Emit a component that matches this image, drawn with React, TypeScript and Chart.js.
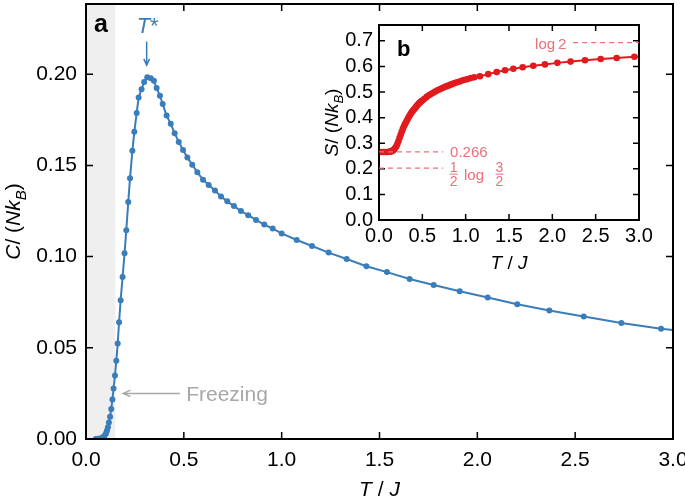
import React, { useEffect, useRef } from "react";
import { Chart, registerables } from "chart.js";

Chart.register(...registerables);

const FONT = '"Liberation Sans", Arial, Helvetica, sans-serif';

// ---- Data ----
// Panel a: heat capacity C/(N k_B) vs T/J
const heatT = [
  0.05, 0.06, 0.07, 0.08, 0.088, 0.095, 0.102, 0.107, 0.112, 0.117, 0.123, 0.129, 0.135, 0.141,
  0.148, 0.155, 0.162, 0.169, 0.177, 0.187, 0.197, 0.206, 0.216, 0.225, 0.237, 0.247, 0.259,
  0.269, 0.284, 0.297, 0.313, 0.331, 0.347, 0.361, 0.378, 0.392, 0.412, 0.433, 0.453, 0.474,
  0.496, 0.518, 0.543, 0.569, 0.598, 0.627, 0.659, 0.69, 0.722, 0.756, 0.792, 0.829, 0.869,
  0.911, 0.954, 1.0, 1.077, 1.155, 1.24, 1.332, 1.433, 1.538, 1.654, 1.777, 1.91, 2.053, 2.204,
  2.368, 2.544, 2.736, 2.939, 3.16,
];
const heatC = [
  0.0, 0.0001, 0.0002, 0.0005, 0.0011, 0.0018, 0.003, 0.0045, 0.0065, 0.009, 0.0122, 0.0165,
  0.0216, 0.0277, 0.0348, 0.0429, 0.0524, 0.064, 0.0761, 0.0888, 0.1018, 0.1145, 0.13, 0.143,
  0.158, 0.1685, 0.1788, 0.1873, 0.1918, 0.1958, 0.1984, 0.1978, 0.1964, 0.1924, 0.1882, 0.1837,
  0.1773, 0.1728, 0.1677, 0.1629, 0.1585, 0.1543, 0.1504, 0.1462, 0.1422, 0.1393, 0.1362, 0.133,
  0.1303, 0.1277, 0.125, 0.1227, 0.1201, 0.1176, 0.1154, 0.1127, 0.1091, 0.1058, 0.1022, 0.0987,
  0.0947, 0.0915, 0.0877, 0.0844, 0.081, 0.0776, 0.0739, 0.0705, 0.0672, 0.0636, 0.0605, 0.0578,
];

// Panel b: entropy S/(N k_B) vs T/J
const entropyT = [
  0.0, 0.025, 0.05, 0.075, 0.1, 0.125, 0.1375, 0.15, 0.1625, 0.175, 0.1875, 0.2, 0.2125, 0.225,
  0.2375, 0.25, 0.2625, 0.275, 0.2875, 0.3, 0.3125, 0.325, 0.3375, 0.35, 0.3625, 0.375, 0.3875,
  0.4, 0.4125, 0.425, 0.4375, 0.45, 0.4625, 0.475, 0.4875, 0.5, 0.525, 0.55, 0.575, 0.6, 0.625,
  0.65, 0.675, 0.7, 0.725, 0.75, 0.775, 0.8, 0.825, 0.85, 0.875, 0.9, 0.93, 0.96, 0.99, 1.025,
  1.06, 1.1, 1.165, 1.26, 1.358, 1.454, 1.55, 1.658, 1.78, 1.915, 2.058, 2.21, 2.377, 2.558,
  2.742, 2.946, 3.15,
];
const entropyS = [
  0.266, 0.266, 0.266, 0.266, 0.266, 0.267, 0.268, 0.27, 0.272, 0.276, 0.281, 0.288, 0.298, 0.309,
  0.321, 0.333, 0.345, 0.356, 0.366, 0.375, 0.383, 0.391, 0.399, 0.406, 0.413, 0.42, 0.426, 0.431,
  0.436, 0.441, 0.446, 0.451, 0.456, 0.46, 0.464, 0.467, 0.474, 0.481, 0.487, 0.492, 0.497, 0.502,
  0.507, 0.511, 0.515, 0.519, 0.522, 0.525, 0.529, 0.532, 0.535, 0.538, 0.541, 0.545, 0.548,
  0.551, 0.555, 0.558, 0.562, 0.57, 0.578, 0.585, 0.591, 0.597, 0.603, 0.608, 0.614, 0.619, 0.624,
  0.629, 0.633, 0.638, 0.642,
];

const mainXTicks = [0, 0.5, 1, 1.5, 2, 2.5, 3];
const mainYTicks = [0, 0.05, 0.1, 0.15, 0.2];
const insetXTicks = [0, 0.5, 1, 1.5, 2, 2.5, 3];
const insetYTicks = [0, 0.1, 0.2, 0.3, 0.4, 0.5, 0.6, 0.7];

const freezingEnd = 0.15;
const tStar = 0.31;
const sZero = 0.266;
const sHalfLog = 0.2027;
const sLog2 = 0.6931;

const BLUE = "#3a7dbb";
const RED = "#e21a1e";
const PINK = "#ee6f78";
const GRAY = "#a8a8a8";
const SHADE = "#efefef";

type Part = { t: string; italic?: boolean; bold?: boolean; sub?: boolean };

function drawRich(
  ctx: CanvasRenderingContext2D,
  parts: Part[],
  x: number,
  y: number,
  size: number,
  color: string,
  rotate = false,
  align: "center" | "left" | "right" = "center"
) {
  ctx.save();
  ctx.translate(x, y);
  if (rotate) ctx.rotate(-Math.PI / 2);
  const fontOf = (p: Part) =>
    `${p.italic ? "italic " : ""}${p.bold ? "bold " : ""}${p.sub ? Math.round(size * 0.7) : size}px ${FONT}`;
  const widths = parts.map((p) => {
    ctx.font = fontOf(p);
    return ctx.measureText(p.t).width;
  });
  const total = widths.reduce((a, b) => a + b, 0);
  let cx = align === "center" ? -total / 2 : align === "right" ? -total : 0;
  ctx.fillStyle = color;
  ctx.textBaseline = "alphabetic";
  ctx.textAlign = "left";
  parts.forEach((p, i) => {
    ctx.font = fontOf(p);
    ctx.fillText(p.t, cx, p.sub ? size * 0.28 : 0);
    cx += widths[i];
  });
  ctx.restore();
}

function arrow(
  ctx: CanvasRenderingContext2D,
  x1: number,
  y1: number,
  x2: number,
  y2: number,
  color: string,
  width: number,
  head: number
) {
  const ang = Math.atan2(y2 - y1, x2 - x1);
  ctx.save();
  ctx.strokeStyle = color;
  ctx.lineWidth = width;
  ctx.beginPath();
  ctx.moveTo(x1, y1);
  ctx.lineTo(x2, y2);
  ctx.moveTo(x2 - head * Math.cos(ang - 0.42), y2 - head * Math.sin(ang - 0.42));
  ctx.lineTo(x2, y2);
  ctx.lineTo(x2 - head * Math.cos(ang + 0.42), y2 - head * Math.sin(ang + 0.42));
  ctx.stroke();
  ctx.restore();
}

function framePlugin(xTicks: number[], yTicks: number[], tickLen: number) {
  return {
    id: "frameTicks",
    afterDatasetsDraw(chart: any) {
      const { ctx, chartArea: a, scales } = chart;
      const xs = scales.x;
      const ys = scales.y;
      ctx.save();
      ctx.strokeStyle = "#000";
      ctx.lineWidth = 1.5;
      ctx.beginPath();
      xTicks.forEach((v) => {
        const px = xs.getPixelForValue(v);
        ctx.moveTo(px, a.bottom);
        ctx.lineTo(px, a.bottom - tickLen);
        ctx.moveTo(px, a.top);
        ctx.lineTo(px, a.top + tickLen);
      });
      yTicks.forEach((v) => {
        const py = ys.getPixelForValue(v);
        ctx.moveTo(a.left, py);
        ctx.lineTo(a.left + tickLen, py);
        ctx.moveTo(a.right, py);
        ctx.lineTo(a.right - tickLen, py);
      });
      ctx.stroke();
      ctx.lineWidth = 2;
      ctx.strokeRect(a.left, a.top, a.right - a.left, a.bottom - a.top);
      ctx.restore();
    },
  };
}

function scaleOpts(
  min: number,
  max: number,
  ticks: number[],
  digits: number,
  size: number,
  padding: number,
  fit: (s: any) => void
) {
  return {
    type: "linear" as const,
    min,
    max,
    grid: { display: false, drawTicks: false },
    border: { display: false },
    ticks: {
      font: { family: FONT, size },
      color: "#000",
      padding,
      maxRotation: 0,
      autoSkip: false,
      callback: (v: any) => Number(v).toFixed(digits),
    },
    afterBuildTicks: (s: any) => {
      s.ticks = ticks.map((v) => ({ value: v }));
    },
    afterFit: fit,
  };
}

const INSET_LEFT = 300;
const INSET_TOP = 15;

export default function App() {
  const mainRef = useRef<HTMLCanvasElement>(null);
  const insetRef = useRef<HTMLCanvasElement>(null);

  useEffect(() => {
    const mainAnn = {
      id: "mainAnn",
      beforeDatasetsDraw(chart: any) {
        const { ctx, chartArea: a, scales } = chart;
        const x0 = scales.x.getPixelForValue(0);
        const x1 = scales.x.getPixelForValue(freezingEnd);
        ctx.save();
        ctx.fillStyle = SHADE;
        ctx.fillRect(x0, a.top, x1 - x0, a.bottom - a.top);
        ctx.restore();
      },
      afterDraw(chart: any) {
        const { ctx, chartArea: a, scales } = chart;
        const xs = scales.x;
        const ys = scales.y;
        drawRich(ctx, [{ t: "a", bold: true }], xs.getPixelForValue(0.041), ys.getPixelForValue(0.2234), 25, "#000", false, "left");
        const tx = xs.getPixelForValue(tStar);
        drawRich(ctx, [{ t: "T", italic: true }, { t: "*" }], tx + 1, ys.getPixelForValue(0.2228), 22, BLUE);
        arrow(ctx, tx, ys.getPixelForValue(0.218), tx, ys.getPixelForValue(0.2049), BLUE, 1.5, 7);
        const fy = ys.getPixelForValue(0.025);
        arrow(ctx, xs.getPixelForValue(0.48), fy, xs.getPixelForValue(0.19), fy, GRAY, 1.5, 8);
        drawRich(ctx, [{ t: "Freezing" }], xs.getPixelForValue(0.512), fy + 7.5, 21, GRAY, false, "left");
        drawRich(ctx, [{ t: "T", italic: true }, { t: " / " }, { t: "J", italic: true }], (a.left + a.right) / 2, 496, 21, "#000");
        drawRich(
          ctx,
          [{ t: "C", italic: true }, { t: "/ (" }, { t: "Nk", italic: true }, { t: "B", italic: true, sub: true }, { t: ")" }],
          20,
          (a.top + a.bottom) / 2,
          21,
          "#000",
          true
        );
      },
    };

    const main = new Chart(mainRef.current!, {
      type: "scatter",
      data: {
        datasets: [
          {
            data: heatT.map((t, i) => ({ x: t, y: heatC[i] })),
            showLine: true,
            borderColor: BLUE,
            backgroundColor: BLUE,
            borderWidth: 2,
            pointRadius: 3,
            pointBorderWidth: 0,
            pointBackgroundColor: BLUE,
            tension: 0,
          },
        ],
      },
      options: {
        animation: false,
        responsive: false,
        maintainAspectRatio: false,
        events: [],
        layout: { padding: { left: 0, right: 12, top: 0, bottom: 0 } },
        plugins: { legend: { display: false }, tooltip: { enabled: false } },
        scales: {
          x: scaleOpts(0, 3, mainXTicks, 1, 21, 9, (s: any) => {
            s.height = 62;
            s.paddingLeft = 0;
            s.paddingRight = 0;
          }),
          y: scaleOpts(0, 0.2385, mainYTicks, 2, 21, 9, (s: any) => {
            s.width = 86;
            s.paddingTop = 0;
            s.paddingBottom = 0;
          }),
        },
      } as any,
      plugins: [mainAnn, framePlugin(mainXTicks, mainYTicks, 7)],
    });

    const insetAnn = {
      id: "insetAnn",
      afterDraw(chart: any) {
        const { ctx, chartArea: a, scales } = chart;
        const xs = scales.x;
        const ys = scales.y;
        drawRich(ctx, [{ t: "b", bold: true }], a.left + 18, a.top + 31, 22, "#000", false, "left");
        ctx.save();
        ctx.strokeStyle = PINK;
        ctx.lineWidth = 1.2;
        ctx.setLineDash([5, 4]);
        const y0 = ys.getPixelForValue(sZero);
        const y1 = ys.getPixelForValue(sHalfLog);
        const y2 = ys.getPixelForValue(sLog2);
        ctx.beginPath();
        ctx.moveTo(xs.getPixelForValue(0), y0);
        ctx.lineTo(xs.getPixelForValue(0.74), y0);
        ctx.moveTo(xs.getPixelForValue(0), y1);
        ctx.lineTo(xs.getPixelForValue(0.74), y1);
        ctx.moveTo(xs.getPixelForValue(2.24), y2);
        ctx.lineTo(xs.getPixelForValue(3), y2);
        ctx.stroke();
        ctx.setLineDash([]);
        ctx.restore();
        drawRich(ctx, [{ t: "0.266" }], xs.getPixelForValue(0.82), y0 + 5.5, 15, PINK, false, "left");
        const fx1 = xs.getPixelForValue(0.862);
        const fx2 = xs.getPixelForValue(1.39);
        const barY = y1 + 6;
        ctx.save();
        ctx.strokeStyle = PINK;
        ctx.lineWidth = 1;
        ctx.beginPath();
        ctx.moveTo(fx1 - 4, barY);
        ctx.lineTo(fx1 + 4, barY);
        ctx.moveTo(fx2 - 4, barY);
        ctx.lineTo(fx2 + 4, barY);
        ctx.stroke();
        ctx.restore();
        drawRich(ctx, [{ t: "1" }], fx1, barY - 2, 14, PINK);
        drawRich(ctx, [{ t: "2" }], fx1, barY + 12, 14, PINK);
        drawRich(ctx, [{ t: "3" }], fx2, barY - 2, 14, PINK);
        drawRich(ctx, [{ t: "2" }], fx2, barY + 12, 14, PINK);
        drawRich(ctx, [{ t: "log" }], xs.getPixelForValue(0.981), barY + 6, 15, PINK, false, "left");
        drawRich(ctx, [{ t: "log\u20092" }], xs.getPixelForValue(2.163), y2 + 6, 15, PINK, false, "right");
        drawRich(ctx, [{ t: "T", italic: true }, { t: " / " }, { t: "J", italic: true }], (a.left + a.right) / 2, 254, 19, "#000");
        drawRich(
          ctx,
          [{ t: "S", italic: true }, { t: "/ (" }, { t: "Nk", italic: true }, { t: "B", italic: true, sub: true }, { t: ")" }],
          338 - INSET_LEFT,
          (a.top + a.bottom) / 2,
          19,
          "#000",
          true
        );
      },
    };

    const inset = new Chart(insetRef.current!, {
      type: "scatter",
      data: {
        datasets: [
          {
            data: entropyT.map((t, i) => ({ x: t, y: entropyS[i] })),
            showLine: true,
            borderColor: RED,
            backgroundColor: RED,
            borderWidth: 2,
            pointRadius: 3.3,
            pointBorderWidth: 0,
            pointBackgroundColor: RED,
            tension: 0,
          },
        ],
      },
      options: {
        animation: false,
        responsive: false,
        maintainAspectRatio: false,
        events: [],
        layout: { padding: { left: 0, right: 26, top: 10, bottom: 0 } },
        plugins: { legend: { display: false }, tooltip: { enabled: false } },
        scales: {
          x: scaleOpts(0, 3, insetXTicks, 1, 20, 4, (s: any) => {
            s.height = 60;
            s.paddingLeft = 0;
            s.paddingRight = 0;
          }),
          y: scaleOpts(0, 0.762, insetYTicks, 1, 20, 6, (s: any) => {
            s.width = 379 - INSET_LEFT;
            s.paddingTop = 0;
            s.paddingBottom = 0;
          }),
        },
      } as any,
      plugins: [insetAnn, framePlugin(insetXTicks, insetYTicks, 6)],
    });

    return () => {
      main.destroy();
      inset.destroy();
    };
  }, []);

  return (
    <div style={{ position: "absolute", left: 0, top: 0, width: 685, height: 501, background: "#fff" }}>
      <canvas ref={mainRef} width={685} height={501} style={{ position: "absolute", left: 0, top: 0, display: "block" }} />
      <canvas
        ref={insetRef}
        width={665 - INSET_LEFT}
        height={265}
        style={{ position: "absolute", left: INSET_LEFT, top: INSET_TOP, display: "block" }}
      />
    </div>
  );
}
